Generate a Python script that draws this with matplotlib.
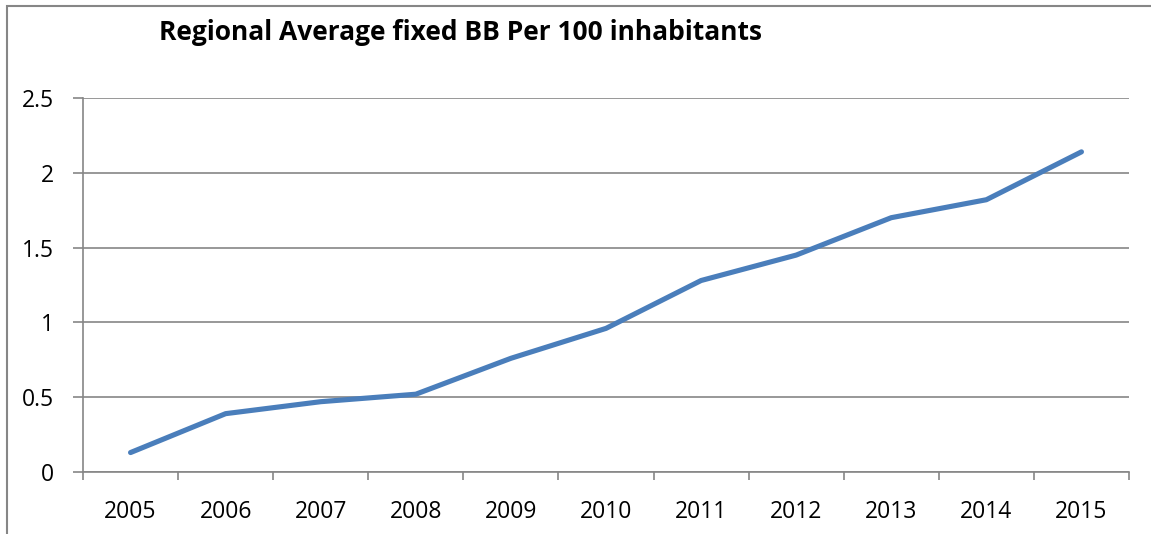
import matplotlib
matplotlib.use("Agg")
import matplotlib.pyplot as plt
from matplotlib.patches import Rectangle
from matplotlib.ticker import FixedLocator, NullFormatter

years = ["2005", "2006", "2007", "2008", "2009", "2010",
         "2011", "2012", "2013", "2014", "2015"]
bb_per_100 = [0.13, 0.39, 0.47, 0.52, 0.76, 0.96, 1.28, 1.45, 1.70, 1.82, 2.14]
y_ticks = [0, 0.5, 1, 1.5, 2, 2.5]
y_tick_labels = ["0", "0.5", "1", "1.5", "2", "2.5"]
title = "Regional Average fixed BB Per 100 inhabitants"

W, H, DPI = 1151, 534, 100
fig = plt.figure(figsize=(W / DPI, H / DPI), dpi=DPI)
font = "Open Sans"
grey = "#868686"

# chart frame (clipped at right and bottom)
fig.patches.append(Rectangle((7.5 / W, -0.05), 1.2, (H - 5.5) / H + 0.05,
                             transform=fig.transFigure, fill=False,
                             edgecolor=grey, linewidth=1.5))

left, right, top, bottom = 83, 1129, 98, 472
ax = fig.add_axes([left / W, 1 - bottom / H, (right - left) / W, (bottom - top) / H])

x = list(range(len(years)))
ax.plot(x, bb_per_100, color="#4a7ebb", linewidth=3.7, solid_capstyle="round",
        solid_joinstyle="round", zorder=3)

ax.set_xlim(-0.5, len(years) - 0.5)
ax.set_ylim(0, 2.5)
ax.grid(axis="y", color=grey, linewidth=1.2)
ax.set_axisbelow(True)

# category boundaries as ticks, labels centred between them
ax.xaxis.set_major_locator(FixedLocator([i - 0.5 for i in range(len(years) + 1)]))
ax.xaxis.set_major_formatter(NullFormatter())
ax.xaxis.set_minor_locator(FixedLocator(x))
ax.set_xticklabels(years, minor=True, fontsize=16.5, fontname=font)
ax.tick_params(axis="x", which="minor", length=0, pad=20)
ax.tick_params(axis="x", which="major", length=6, width=1.2, color=grey)

ax.set_yticks(y_ticks)
ax.set_yticklabels(y_tick_labels, fontsize=16.5, fontname=font)
ax.tick_params(axis="y", length=7, width=1.2, color=grey, pad=14)

for s in ["top", "right"]:
    ax.spines[s].set_visible(False)
for s in ["left", "bottom"]:
    ax.spines[s].set_color(grey)
    ax.spines[s].set_linewidth(1.2)

fig.text(159 / W, 1 - 32 / H, title, fontsize=19, fontweight="bold",
         fontname=font, ha="left", va="center")

fig.savefig("out.png", dpi=DPI)
